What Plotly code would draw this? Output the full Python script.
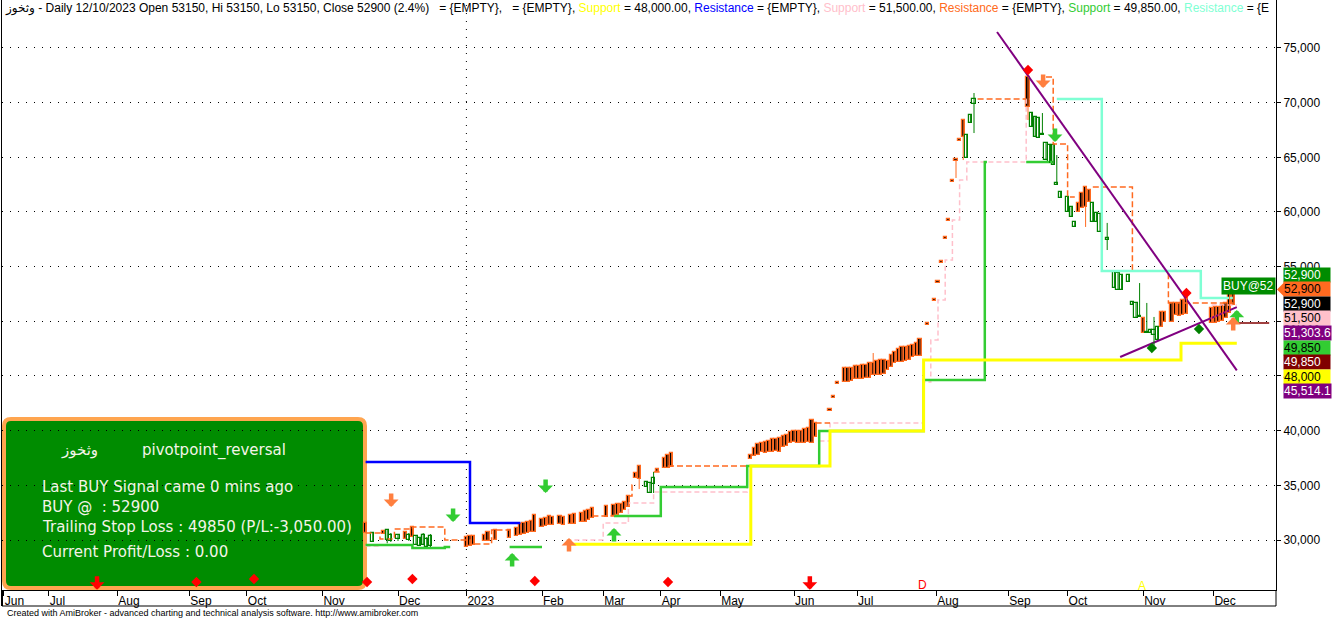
import plotly.graph_objects as go

# ---------------- data ----------------
month_tick_idx = [0.5, 13, 32, 52, 68, 89, 110, 129, 150, 167, 183, 199.5, 220, 237.5, 259.5, 279.5, 296, 317, 336.5]
month_tick_text = ["Jun", "Jul", "Aug", "Sep", "Oct", "Nov", "Dec", "2023", "Feb", "Mar", "Apr", "May",
                   "Jun", "Jul", "Aug", "Sep", "Oct", "Nov", "Dec"]
price_ticks = [30000, 35000, 40000, 45000, 50000, 55000, 60000, 65000, 70000, 75000]

bar_day = [101, 103, 106, 107, 108, 110, 112, 113, 114, 115, 116, 117, 118, 119,
           129, 130, 131, 134, 135, 137, 141, 143, 144, 145, 146, 147, 148, 150, 151, 152, 153, 155, 156, 158,
           159, 161, 162, 163, 164, 168, 170, 171, 172, 173, 174, 176, 177, 179, 180, 181, 182, 184, 185, 186,
           208, 209, 210, 211, 212, 213, 214, 215, 216, 217, 218, 219, 220, 221, 222, 223, 224, 225, 226,
           230, 231, 232,
           234, 235, 236, 237, 238, 239, 240, 241, 242, 243, 244, 245, 246, 247, 248, 249, 250, 251, 252, 253,
           254, 255, 257,
           259, 260, 261, 262, 263, 264, 265, 266, 267, 268, 269, 270,
           285, 286, 287, 288, 289, 290, 291, 292, 293, 294, 296, 297, 298, 299, 300, 301, 302, 303, 304, 305, 307,
           309, 310, 311, 313, 314, 315, 316, 317, 318, 319, 320, 321, 322, 323, 325, 326, 327, 328, 329,
           336, 337, 338, 339, 340, 341, 342]
bar_open = [31550, 29820, 30820, 30000, 29910, 30090, 30730, 30000, 31190, 29540, 29450, 29540, 29360, 29450,
            30270, 30370, 30370, 30460, 30730, 30910, 30910, 31100, 31460, 31550, 31650, 31740, 32290, 31920, 32010,
            32200, 32100, 32200, 32100, 32290,
            32380, 32470, 32650, 32740, 32930, 33110, 33200, 33290, 33290, 33480, 34020, 36130, 36770, 34850, 34300,
            35120, 36490, 37500, 37770, 37960,
            37770, 38410, 38780, 38870, 38960, 39050, 39240, 39240, 39330, 39510, 39600, 39880, 39970, 39970, 39970,
            40150, 40240, 40975, 40700,
            41890, 43080, 44360,
            45730, 45730, 45730, 45910, 45910, 46000, 46000, 46190, 46190, 46370, 46460, 46460, 46370, 46920, 47190,
            47470, 47650, 47650, 47740, 47830, 48020, 48380, 49760,
            51950, 53600, 55430, 57620, 59270, 62830, 64750, 66580, 68410, 64940, 68140, 69880,
            72350, 67770, 66860, 66770, 67040, 64750, 64480, 64300, 62470, 61280, 60000, 59540, 58630, 60820, 61740,
            62290, 62010, 59080, 59080, 58170, 57440,
            53050, 52870, 52870, 53600, 51490, 50300, 50400, 50300, 48930, 48930, 48750, 48290, 50850, 50850, 51680,
            51680, 51680, 51950, 52130,
            51220, 51310, 51310, 51490, 51680, 52590, 52900]
bar_high = [31550, 30640, 30820, 31000, 30640, 30550, 30730, 30640, 31190, 30460, 30270, 30640, 30270, 30550,
            30270, 30370, 30370, 30460, 30730, 30910, 30910, 31100, 31460, 31550, 31650, 31740, 32290, 31920, 32010,
            32200, 32100, 32200, 32100, 32290,
            32380, 32470, 32650, 32740, 32930, 33110, 33200, 33290, 33290, 33480, 34020, 36130, 36770, 35300, 35210,
            36220, 36490, 37500, 37770, 37960,
            37770, 38410, 38780, 38870, 38960, 39050, 39240, 39240, 39330, 39510, 39600, 39880, 39970, 39970, 39970,
            40150, 40240, 40975, 40700,
            41890, 43080, 44360,
            45730, 45730, 45730, 45910, 45910, 46000, 46000, 46190, 47100, 46370, 46460, 46460, 46370, 46920, 47190,
            47470, 47650, 47650, 47740, 47830, 48020, 48380, 49760,
            51950, 53600, 55430, 57620, 59270, 62830, 64750, 66580, 68410, 67040, 68870, 70880,
            72350, 69050, 68690, 68600, 69050, 66310, 66130, 66130, 65210, 61830, 61370, 60460, 59080, 60820, 61740,
            62290, 62010, 60820, 59910, 59820, 59000,
            54510, 54420, 54240, 54240, 51770, 51680, 53500, 50300, 51680, 49200, 50400, 49480, 50850, 50850, 51680,
            51680, 51680, 51950, 52130,
            51220, 51310, 51310, 51490, 51680, 53500, 52900]
bar_low = [30640, 29820, 30550, 29700, 29820, 29910, 30090, 29910, 30270, 29540, 29450, 29540, 29360, 29360,
           29360, 29450, 29540, 29910, 29910, 30000, 30180, 30370, 30460, 30550, 30640, 30730, 30730, 31190, 31280,
           31370, 31370, 31460, 31370, 31460,
           31460, 31650, 31650, 31830, 32010, 32100, 32200, 32290, 32470, 32740, 33020, 35670, 34660, 34850, 34300,
           34300, 36220, 36580, 36580, 36680,
           37410, 37680, 37770, 38050, 37960, 38050, 38050, 38140, 38050, 38510, 38600, 38870, 38960, 38870, 38870,
           38870, 38960, 38870, 39420,
           41890, 43080, 44360,
           44450, 44450, 44540, 44730, 44730, 44730, 44820, 44820, 45090, 45090, 45090, 45180, 45550, 45820, 46190,
           46280, 46280, 46370, 46460, 46740, 46830, 46830, 49760,
           51950, 53600, 55430, 57620, 59270, 62830, 63110, 66580, 64750, 64940, 68140, 67220,
           68410, 67770, 66860, 66770, 67040, 64750, 64480, 64300, 62470, 61280, 60000, 59540, 58630, 60000, 60360,
           58630, 60910, 59080, 59080, 58170, 56520,
           53050, 52870, 52870, 53600, 51490, 50300, 50400, 48930, 48930, 48930, 47470, 48290, 49480, 49940, 49940,
           50580, 50490, 50580, 50670,
           49850, 49850, 49940, 50030, 50300, 50760, 51490]
bar_close = [30640, 30640, 30550, 30910, 30460, 30460, 30090, 30460, 30270, 30370, 30180, 30460, 30090, 30370,
             29360, 29450, 29540, 29910, 29910, 30000, 30180, 30370, 30460, 30550, 30640, 30730, 30730, 31190, 31280,
             31370, 31370, 31460, 31370, 31460,
             31460, 31650, 31650, 31830, 32010, 32100, 32200, 32290, 32470, 32740, 33020, 35670, 35580, 35300, 35210,
             35670, 36220, 36580, 36580, 36680,
             37410, 37680, 37770, 38050, 37960, 38050, 38050, 38140, 38050, 38510, 38600, 38870, 38960, 38870, 38870,
             38870, 38960, 38870, 39420,
             41890, 43080, 44360,
             44450, 44450, 44540, 44730, 44730, 44730, 44820, 44820, 45090, 45090, 45090, 45180, 45550, 45820, 46190,
             46280, 46280, 46370, 46460, 46740, 46830, 46830, 49760,
             51950, 53600, 55430, 57620, 59270, 62830, 64750, 66580, 66860, 67040, 68870, 70330,
             69600, 69050, 68690, 68600, 67100, 66310, 66130, 66130, 62650, 61830, 61370, 60460, 59080, 60000, 60360,
             60460, 60910, 60820, 59910, 59820, 57620,
             54510, 54420, 54240, 54240, 51770, 51680, 50490, 48930, 49020, 49200, 49200, 49480, 49480, 49940, 49940,
             50580, 50490, 50580, 50670,
             49850, 49850, 49940, 50030, 50300, 50760, 51490]

# indicator step lines (None = gap)
blue_res_x = [101, 130, 144]
blue_res_y = [37130, 31550, 31550]
yellow_sup_x = [158, 208, 230, 256, 327.5, 343]
yellow_sup_y = [29600, 36770, 39970, 46460, 48000, 48000]
green_sup_x = [101, 114, 123, 124.5, None, 141, 150, None, 170, 183, 207, 227, 256, 273, 273.6, None, 284.5, 292]
green_sup_y = [29540, 29270, 29360, 29360, None, 29360, 29360, None, 32200, 34850, 36770, 39970, 44630, 64570,
               64570, None, 64570, 64570]
pink_sup_x = [101, 105, None, 159, 167, 174, 181, 207, 227, 230, 256, 258, 260, 262, 264, 266, 268, 284.5, 285.5,
              None, 336, 343]
pink_sup_y = [29450, 29450, None, 30000, 31550, 33380, 34390, 36770, 39050, 40700, 44450, 48290, 51950, 55610,
              59270, 62930, 64570, 70330, 70330, None, 51500, 51500]
orange_res_x = [101, 105, 109, 114, 123, 130, 136, 141, None, 164, 170, None, 174, 175, 176, None, 181, 183, None,
                185, 208, None, 226, 230, None, 271, 284.5, None, 290, 292, 296, 298, None, 303, 314, 324, 342]
orange_res_y = [30640, 30090, 31000, 31190, 30000, 29630, 30910, 30910, None, 32200, 32200, None, 34020, 35030,
                35030, None, 36220, 36220, None, 36770, 36770, None, 40700, 40700, None, 70330, 70330, None, 72350,
                66220, 61370, 61370, None, 62290, 54600, 51680, 51680]
aqua_res_x = [293, 305.5, 333, 342]
aqua_res_y = [70330, 54600, 52130, 52130]
trend_down_x = [276.4, 343]
trend_down_y = [76460, 45514.1]
trend_up_x = [310.6, 343]
trend_up_y = [46737, 51303.6]
stop_x = [343, 352]
stop_y = [49850, 49850]

# signals
sell_orange_x = [108.1, 289.2]
sell_orange_y = [33020, 71340]
sell_green_x = [125.3, 151, 292.5]
sell_green_y = [31650, 34300, 66400]
buy_green_x = [141.7, 170, 343]
buy_green_y = [28810, 31100, 51040]
buy_orange_x = [157.5, 342]
buy_orange_y = [30180, 50400]
red_dia_x = [285, 329, 54, 70, 101.4, 114, 148, 185, 285.6, 329.2]
red_dia_y = [72990, 52590, 26160, 26430, 26160, 26430, 26250, 26160, 24510, 25330]
green_dia_x = [319.4, 332.5, 319.4, 332.8]
green_dia_y = [47560, 49300, 24510, 24150]
blue_dia_x = [15.8, 48.6, 67.5, 111.4, 128.3, 167.2, 208.1, 319.4, 334.7]
blue_dia_y = [24330, 24060, 24330, 24330, 24330, 24060, 24150, 23880, 23690]
red_down_x = [26.4, 224.4]
red_down_y = [25450, 25450]
green_up_bottom_x = [87.2]
green_up_bottom_y = [25150]

label_texts = ["52,900", "52,900", "52,900", "51,500", "51,303.6", "49,850", "49,850", "48,000", "45,514.1"]
label_bg = ["#008c00", "#ff6a20", "#000000", "#ffc0cb", "#800080", "#32cd32", "#800000", "#ffff00", "#800080"]
label_fg = ["white", "black", "white", "black", "white", "black", "white", "black", "white"]

# ---------------- geometry helpers ----------------
W, H = 1336, 619
PL, PR, PT, PB = 2, 1276, 0, 590
X_RANGE = [0, (PR - PL) / 3.6]
Y_RANGE = [25427, 79388]


def px2paper_x(px):
    return (px - PL) / (PR - PL)


def px2paper_y(py):
    return 1 - (py - PT) / (PB - PT)


ORANGE = "#ff6a20"
ARROW_OR = "#ff7f3f"
GREEN_C = "#008000"
LIME = "#33cc33"
FONT = "Liberation Sans, Arial, DejaVu Sans"

fig = go.Figure()


def step(x, y, color, width, dash="solid"):
    fig.add_trace(go.Scatter(x=x, y=y, mode="lines", line=dict(color=color, width=width, dash=dash, shape="hv"),
                             connectgaps=False, hoverinfo="skip"))


step(pink_sup_x, pink_sup_y, "#ffc0cb", 1.5, "5px,3px")
step(orange_res_x, orange_res_y, ORANGE, 1.5, "6px,3px")
step(aqua_res_x, aqua_res_y, "#7fffd4", 2.5)
step(blue_res_x, blue_res_y, "#0000ff", 2.5)
step(green_sup_x, green_sup_y, LIME, 2.5)
step(yellow_sup_x, yellow_sup_y, "#ffff00", 3)
fig.add_trace(go.Scatter(x=trend_down_x, y=trend_down_y, mode="lines", line=dict(color="#800080", width=2)))
fig.add_trace(go.Scatter(x=trend_up_x, y=trend_up_y, mode="lines", line=dict(color="#800080", width=2)))
fig.add_trace(go.Scatter(x=stop_x, y=stop_y, mode="lines", line=dict(color="#800000", width=1.5)))

# candles
down = [c <= o for o, c in zip(bar_open, bar_close)]
MINH = 110
for is_down, fill, lc in [(True, "black", ORANGE), (False, "white", GREEN_C)]:
    wx, wy, bx, bb, bh = [], [], [], [], []
    for d, o, h, l, c, dn in zip(bar_day, bar_open, bar_high, bar_low, bar_close, down):
        if dn != is_down:
            continue
        wx += [d, d, None]
        wy += [l, h, None]
        lo, hi = min(o, c), max(o, c)
        if hi - lo < MINH:
            mid = (hi + lo) / 2
            lo, hi = mid - MINH / 2, mid + MINH / 2
        bx.append(d)
        bb.append(lo)
        bh.append(hi - lo)
    fig.add_trace(go.Scatter(x=wx, y=wy, mode="lines", line=dict(color=lc, width=1), hoverinfo="skip"))
    fig.add_trace(go.Bar(x=bx, y=bh, base=bb, width=0.9, marker=dict(color=fill, line=dict(color=lc, width=1.2))))

# diamonds
for xs, ys, col in [(red_dia_x, red_dia_y, "#ff0000"), (green_dia_x, green_dia_y, "#008000"),
                    (blue_dia_x, blue_dia_y, "#0000ff")]:
    fig.add_trace(go.Scatter(x=xs, y=ys, mode="markers", cliponaxis=False,
                             marker=dict(symbol="diamond", size=8, color=col, line=dict(width=0))))

annotations = []


def arrows(xs, ys, color, up):
    for x, y in zip(xs, ys):
        annotations.append(dict(x=x, y=y, xref="x", yref="y", text="", showarrow=True, ax=0,
                                ay=15 if up else -15, arrowcolor=color, arrowwidth=4.5, arrowhead=1,
                                arrowsize=0.55, standoff=0))


arrows(sell_orange_x, sell_orange_y, ARROW_OR, False)
arrows(sell_green_x, sell_green_y, LIME, False)
arrows(buy_green_x, buy_green_y, LIME, True)
arrows(buy_orange_x, buy_orange_y, ARROW_OR, True)
arrows(red_down_x, red_down_y, "#ff0000", False)
arrows(green_up_bottom_x, green_up_bottom_y, "#008000", True)

# title
title_html = ("وثخوز - Daily 12/10/2023 Open 53150, Hi 53150, Lo 53150, Close 52900 (2.4%)&nbsp;&nbsp; = {EMPTY},"
              "&nbsp;&nbsp; = {EMPTY}, <span style='color:#ffff00'>Support</span> = 48,000.00, "
              "<span style='color:#0000ff'>Resistance</span> = {EMPTY}, "
              "<span style='color:#ffc0cb'>Support</span> = 51,500.00, "
              "<span style='color:#ff6a20'>Resistance</span> = {EMPTY}, "
              "<span style='color:#33cc33'>Support</span> = 49,850.00, "
              "<span style='color:#7fffd4'>Resistance</span> = {E")
annotations.append(dict(x=px2paper_x(3), y=px2paper_y(9), xref="paper", yref="paper", text=title_html,
                        showarrow=False, xanchor="left", yanchor="middle",
                        font=dict(family=FONT, size=12, color="black")))

# info box texts
BOXTXT = "#f4f4e8"
box_lines = [
    ("وثخوز", 79, 450, "center"),
    ("pivotpoint_reversal", 140, 450, "left"),
    ("Last BUY Signal came 0 mins ago", 40, 487, "left"),
    ("BUY @ &nbsp;: 52900", 40, 507, "left"),
    ("Trailing Stop Loss : 49850 (P/L:-3,050.00)", 40, 527, "left"),
    ("Current Profit/Loss : 0.00", 40, 552, "left"),
]
for t, px, py, anc in box_lines:
    annotations.append(dict(x=px2paper_x(px), y=px2paper_y(py), xref="paper", yref="paper", text=t,
                            showarrow=False, xanchor=anc, yanchor="middle",
                            font=dict(family="DejaVu Sans", size=15, color=BOXTXT)))

# right-hand value labels
label_py0, label_dy = 274.5, 14.6
for i, (t, bg, fg) in enumerate(zip(label_texts, label_bg, label_fg)):
    wide = len(t) > 6
    annotations.append(dict(x=px2paper_x(1283), y=px2paper_y(label_py0 + i * label_dy), xref="paper", yref="paper",
                            text=t, showarrow=False, xanchor="left", yanchor="middle", bgcolor=bg,
                            font=dict(family=FONT, size=12, color=fg), borderpad=0,
                            width=None if wide else 46, height=14, align="left"))

annotations.append(dict(x=1.0, y=px2paper_y(285.5), xref="paper", yref="paper", text="BUY@52",
                        showarrow=False, xanchor="right", yanchor="middle", bgcolor="#008c00",
                        font=dict(family=FONT, size=12, color="white"), borderpad=1, height=14))

# wave labels at bottom
annotations.append(dict(x=255.6, y=px2paper_y(594), xref="x", yref="paper", text="D", showarrow=False,
                        font=dict(family=FONT, size=12, color="#ff0000")))
annotations.append(dict(x=316.6, y=px2paper_y(595), xref="x", yref="paper", text="A", showarrow=False,
                        font=dict(family=FONT, size=12, color="#ffff00")))

annotations.append(dict(x=px2paper_x(5), y=px2paper_y(613), xref="paper", yref="paper",
                        text="Created with AmiBroker - advanced charting and technical analysis software. http://www.amibroker.com",
                        showarrow=False, xanchor="left", yanchor="middle",
                        font=dict(family=FONT, size=9, color="black")))

# shapes
shapes = []
bx0, by0, bx1, by1, r = 4, 419, 365, 588, 7
X0, X1 = px2paper_x(bx0), px2paper_x(bx1)
Y0, Y1 = px2paper_y(by0), px2paper_y(by1)
rx, ry = r / (PR - PL), r / (PB - PT)
path = (f"M{X0 + rx},{Y0} L{X1 - rx},{Y0} Q{X1},{Y0} {X1},{Y0 - ry} L{X1},{Y1 + ry} Q{X1},{Y1} {X1 - rx},{Y1} "
        f"L{X0 + rx},{Y1} Q{X0},{Y1} {X0},{Y1 + ry} L{X0},{Y0 - ry} Q{X0},{Y0} {X0 + rx},{Y0} Z")
shapes.append(dict(type="path", path=path, xref="paper", yref="paper", fillcolor="#008c00",
                   line=dict(color="#ffa54f", width=4), layer="between"))
shapes.append(dict(type="line", xref="x", yref="paper", x0=129, x1=129, y0=0, y1=1,
                   line=dict(color="black", width=1, dash="1px,7px"), layer="between"))
yb = px2paper_y(606)
shapes.append(dict(type="line", xref="paper", yref="paper", x0=0, x1=1, y0=yb, y1=yb, line=dict(color="black", width=1)))
shapes.append(dict(type="line", xref="paper", yref="paper", x0=1, x1=1, y0=yb, y1=0, line=dict(color="black", width=1)))
shapes.append(dict(type="line", xref="paper", yref="paper", x0=0, x1=0, y0=yb, y1=0, line=dict(color="black", width=2)))
tx0, tx1 = px2paper_x(1277), px2paper_x(1284)
shapes.append(dict(type="path", xref="paper", yref="paper",
                   path=f"M{tx0},{px2paper_y(289.5)} L{tx1},{px2paper_y(282.5)} L{tx1},{px2paper_y(296.5)} Z",
                   fillcolor=ORANGE, line=dict(width=0)))

NBSP = "\u00a0"
fig.update_layout(
    width=W, height=H,
    margin=dict(l=PL, r=W - PR, t=PT, b=H - PB),
    plot_bgcolor="white", paper_bgcolor="white",
    showlegend=False, barmode="overlay", bargap=0,
    annotations=annotations, shapes=shapes,
    xaxis=dict(range=X_RANGE, tickvals=month_tick_idx, ticktext=month_tick_text, ticks="outside", ticklen=5,
               tickcolor="black", showgrid=False, zeroline=False, showline=True, linecolor="black", linewidth=1,
               ticklabelposition="outside right", tickfont=dict(family=FONT, size=12, color="black"),
               fixedrange=True),
    yaxis=dict(range=Y_RANGE, side="right", tickvals=price_ticks, tickformat=",", ticks="outside", ticklen=4,
               tickprefix=NBSP * 4,
               tickcolor="black", showgrid=True, gridcolor="black", griddash="1px,7px", gridwidth=1,
               showline=True, linecolor="black", linewidth=1, mirror=True, zeroline=False,
               tickfont=dict(family=FONT, size=12, color="black"), fixedrange=True),
)

fig.write_html("out.html", config={"displayModeBar": False},
               post_script="document.body.style.margin='0px';")
